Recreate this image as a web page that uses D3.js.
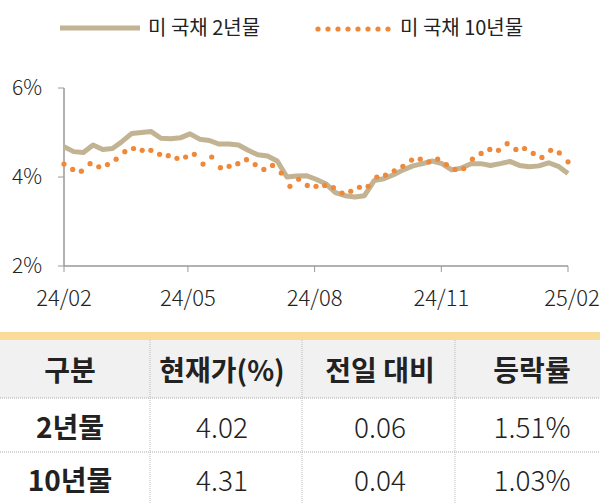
<!DOCTYPE html>
<html><head><meta charset="utf-8">
<script src="https://cdn.jsdelivr.net/npm/d3@7"></script>
<style>body{margin:0;background:#fff}svg{font-family:"Noto Sans CJK KR","Noto Sans",sans-serif}</style>
</head><body><svg id="c" width="600" height="504"></svg>
<script>
// weekly 2y yields, 2024-02 .. 2025-02
var y2 = [4.68,4.57,4.55,4.72,4.62,4.64,4.80,4.98,5.00,5.02,4.87,4.86,4.88,4.97,4.85,4.82,4.74,4.74,4.72,4.60,4.50,4.47,4.36,4.00,4.02,4.03,3.95,3.85,3.65,3.58,3.55,3.58,3.92,3.96,4.05,4.16,4.25,4.30,4.36,4.30,4.16,4.20,4.30,4.30,4.26,4.30,4.35,4.26,4.23,4.25,4.32,4.24,4.08];
// 10y yields (dots)
var y10 = [4.29,4.17,4.13,4.30,4.23,4.28,4.40,4.57,4.64,4.60,4.60,4.51,4.48,4.42,4.45,4.51,4.29,4.45,4.21,4.24,4.30,4.39,4.28,4.17,4.26,4.09,3.79,3.95,3.81,3.79,3.81,3.76,3.64,3.68,3.77,3.79,4.00,4.04,4.14,4.24,4.38,4.40,4.34,4.40,4.28,4.17,4.19,4.40,4.53,4.62,4.60,4.75,4.62,4.64,4.53,4.44,4.60,4.54,4.34];
var xTicks = ["24/02","24/05","24/08","24/11","25/02"];
var yTicks = [2,4,6];
var headers = ["구분","현재가(%)","전일 대비","등락률"];
var rows = [["2년물","4.02","0.06","1.51%"],["10년물","4.31","0.04","1.03%"]];

var svg = d3.select("#c");
var t0 = new Date(2024,1,1), t1 = new Date(2025,1,1);
var x = d3.scaleTime().domain([t0,t1]).range([64,568]);
var y = d3.scaleLinear().domain([2,6]).range([266,88]);
var span = t1 - t0;
var d2 = y2.map((v,i)=>({t:new Date(+t0 + span*i/(y2.length-1)), v}));
var d10 = y10.map((v,i)=>({t:new Date(+t0 + span*i/(y10.length-1)), v}));

// axes
svg.append("line").attr("x1",64).attr("x2",64).attr("y1",88).attr("y2",266).attr("stroke","#999").attr("stroke-width",1.5);
svg.append("line").attr("x1",64).attr("x2",568).attr("y1",266).attr("y2",266).attr("stroke","#999").attr("stroke-width",1.5);
yTicks.forEach(v=>{
  svg.append("line").attr("x1",58).attr("x2",64).attr("y1",y(v)).attr("y2",y(v)).attr("stroke","#999");
  svg.append("text").attr("x",42).attr("y",y(v)+7).attr("text-anchor","end").attr("font-size",21).attr("font-weight",300).attr("fill","#222").text(v+"%");
});
xTicks.forEach((s,i)=>{
  var xx = x(new Date(2024,1+3*i,1));
  svg.append("line").attr("x1",xx).attr("x2",xx).attr("y1",266).attr("y2",272).attr("stroke","#999");
  svg.append("text").attr("x",i==4?xx+4:xx).attr("y",306).attr("text-anchor","middle").attr("font-size",22).attr("font-weight",300).attr("fill","#222").text(s);
});

// series
svg.append("path").datum(d2).attr("fill","none").attr("stroke","#c2b393").attr("stroke-width",5).attr("stroke-linejoin","round")
  .attr("d",d3.line().x(d=>x(d.t)).y(d=>y(d.v)));
svg.append("g").selectAll("circle").data(d10).join("circle")
  .attr("cx",d=>x(d.t)).attr("cy",d=>y(d.v)).attr("r",2.6).attr("fill","#f0883a");

// legend
svg.append("line").attr("x1",60).attr("x2",140).attr("y1",28).attr("y2",28).attr("stroke","#c2b393").attr("stroke-width",5);
svg.append("text").attr("x",148).attr("y",35).attr("font-size",20).attr("fill","#222").text("미 국채 2년물");
svg.append("g").selectAll("circle").data(d3.range(8)).join("circle")
  .attr("cx",d=>318+d*10).attr("cy",29).attr("r",2.6).attr("fill","#f0883a");
svg.append("text").attr("x",400).attr("y",35).attr("font-size",20).attr("fill","#222").text("미 국채 10년물");

// table
svg.append("rect").attr("x",0).attr("y",332).attr("width",600).attr("height",8).attr("fill","#f9dc9a");
svg.append("rect").attr("x",0).attr("y",340).attr("width",600).attr("height",58).attr("fill","#f1f1f1");
var colX = [0,150,302,455,600];
var centers = [70,222,380,532];
[398,452].forEach(yy=>svg.append("line").attr("x1",0).attr("x2",600).attr("y1",yy).attr("y2",yy).attr("stroke","#aaa").attr("stroke-dasharray","1,1"));
colX.slice(1,4).forEach(xx=>svg.append("line").attr("x1",xx).attr("x2",xx).attr("y1",340).attr("y2",504).attr("stroke","#bbb").attr("stroke-dasharray","1,1"));
var rowY = [381,438,491];
headers.forEach((h,i)=>svg.append("text").attr("x",centers[i]).attr("y",rowY[0]).attr("text-anchor","middle")
  .attr("font-size",28).attr("font-weight","bold").attr("fill","#222").text(h));
rows.forEach((r,j)=>r.forEach((c,i)=>svg.append("text").attr("x",centers[i]).attr("y",rowY[j+1]).attr("text-anchor","middle")
  .attr("font-size",28).attr("font-weight",i==0?"bold":300).attr("fill","#222").text(c)));
</script></body></html>
